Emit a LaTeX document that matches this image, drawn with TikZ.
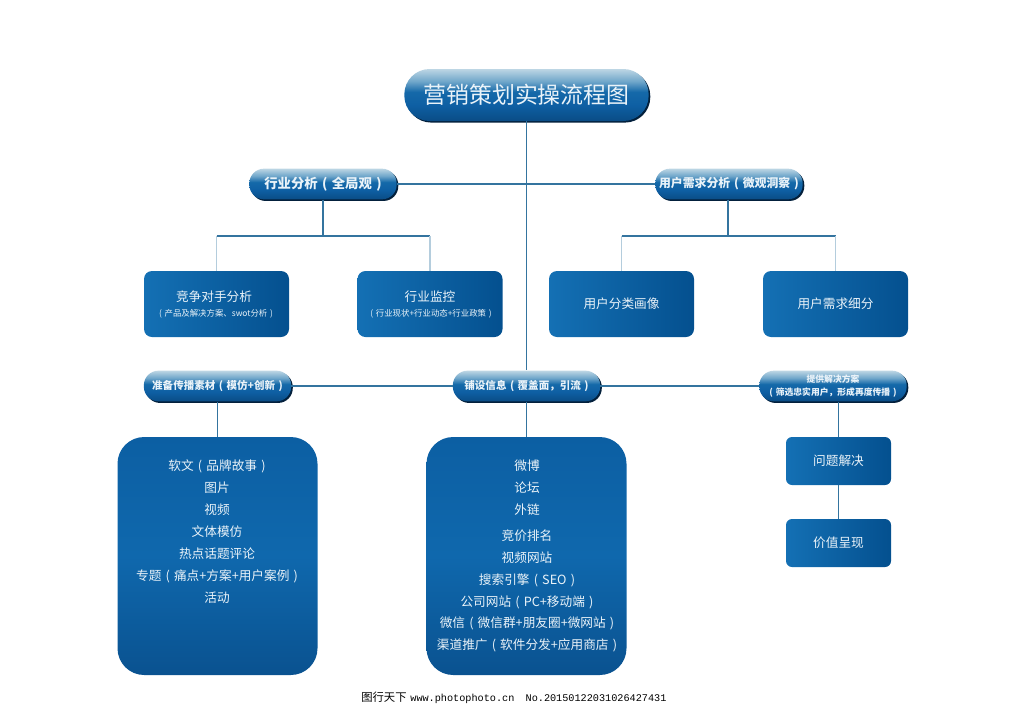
\documentclass[tikz,border=0pt]{standalone}
\usepackage{fontspec}
\setmainfont{Noto Sans CJK SC}
\newfontfamily\footlatin{Liberation Mono}
\usepackage{xcolor}
\usetikzlibrary{shadows}
\definecolor{linkblue}{HTML}{34749F}
\definecolor{stubblue}{HTML}{B4CDDD}
\definecolor{inkwhite}{HTML}{EAF3F9}
\definecolor{shadowink}{HTML}{03203C}
\definecolor{boxleft}{HTML}{1470B4}
\definecolor{boxright}{HTML}{04508F}
\definecolor{bigtop}{HTML}{0C5FA3}
\definecolor{bigmid}{HTML}{0F68AD}
\definecolor{bigbottom}{HTML}{0A5290}
\definecolor{pilla}{HTML}{0A4C85}
\definecolor{pillb}{HTML}{0E5FA3}
\definecolor{pillc}{HTML}{1569A9}
\definecolor{pilld}{HTML}{6FA6CA}
\definecolor{pille}{HTML}{BDD6E4}
\pgfdeclareverticalshading{pillshade}{100bp}{
  color(0bp)=(pilla); color(25bp)=(pilla); color(40bp)=(pillb);
  color(53bp)=(pillc); color(63bp)=(pilld); color(75bp)=(pille); color(100bp)=(pille)}
\newcommand{\lk}{\hspace{.33em}(\hspace{.33em}}
\newcommand{\rk}{\hspace{.33em})}
\newcommand{\lowtxt}[1]{\raisebox{-0.75pt}{#1}}
\begin{document}
\begin{tikzpicture}[x=0.75pt,y=0.75pt]
        \tikzstyle{every node}+=[inner sep=0pt,text=inkwhite,align=center]
        \tikzstyle{pillbox}=[shading=pillshade,rounded corners=11pt,minimum width=110.5pt,minimum height=23pt,
          general shadow={fill=shadowink,shadow xshift=1.2pt,shadow yshift=-1.2pt}]
        \tikzstyle{flatbox}=[left color=boxleft,right color=boxright,rounded corners=6pt]
        \tikzstyle{bigbox}=[top color=bigtop,bottom color=bigbottom,middle color=bigmid,rounded corners=20pt,minimum width=150pt,minimum height=178.5pt]
        \tikzstyle{link}=[linkblue,line width=1.1pt]
        \tikzstyle{stub}=[stubblue,line width=1.1pt]
        \tikzstyle{listline}=[font=\fontsize{9.5}{11}\selectfont]
        \useasboundingbox (0,0) rectangle (1024,-707);
        % top
        \node [pillbox,rounded corners=19pt,minimum width=183.25pt,minimum height=39pt,font=\fontsize{17.2}{20}\selectfont] (title) at (526.5,-95) {\lowtxt{营销策划实操流程图}};
        % analysis row
        \node [pillbox,font=\fontsize{10}{12}\selectfont\bfseries] (hangye) at (323,-184) {\lowtxt{行业分析\lk 全局观\rk}};
        \node [pillbox,font=\fontsize{8.9}{11}\selectfont\bfseries] (yonghu) at (729,-184) {\lowtxt{用户需求分析\lk 微观洞察\rk}};
        \node [flatbox,minimum width=108.75pt,minimum height=49.5pt] (jingzheng) at (216.5,-304) {};
        \node [flatbox,minimum width=108.75pt,minimum height=49.5pt] (jiankong) at (430,-304) {};
        \node [flatbox,minimum width=108.75pt,minimum height=49.5pt,font=\fontsize{9.5}{11}\selectfont] (huaxiang) at (621.5,-304) {\lowtxt{用户分类画像}};
        \node [flatbox,minimum width=108.75pt,minimum height=49.5pt,font=\fontsize{9.5}{11}\selectfont] (xifen) at (835.5,-304) {\lowtxt{用户需求细分}};
        \node [font=\fontsize{9.5}{11}\selectfont] (jzmain) at (214,-297) {竞争对手分析};
        \node [font=\fontsize{6.3}{8}\selectfont] (jzsub) at (216,-314) {(\hspace{.33em}产品及解决方案、swot分析\rk};
        \node [font=\fontsize{9.5}{11}\selectfont] (jkmain) at (430,-297) {行业监控};
        \node [font=\fontsize{6.3}{8}\selectfont] (jksub) at (431,-314) {(\hspace{.33em}行业现状+行业动态+行业政策\rk};
        % spreading row
        \node [pillbox,font=\fontsize{7.9}{10}\selectfont\bfseries] (zhunbei) at (217.5,-386) {\lowtxt{准备传播素材\lk 模仿+创新\rk}};
        \node [pillbox,font=\fontsize{7.9}{10}\selectfont\bfseries] (puse) at (526.5,-386) {\lowtxt{铺设信息\lk 覆盖面，引流\rk}};
        \node [pillbox,font=\fontsize{6.6}{9.5}\selectfont\bfseries] (tigong) at (833,-386) {提供解决方案\\(\hspace{.33em}筛选忠实用户，形成再度传播\rk};
        \node [bigbox] (sucai) at (217.5,-556) {};
        \node [bigbox] (xinxi) at (526.5,-556) {};
        \node [flatbox,rounded corners=4.5pt,minimum width=78.75pt,minimum height=36pt,font=\fontsize{9.5}{11}\selectfont] (wenti) at (838.5,-461) {\lowtxt{问题解决}};
        \node [flatbox,rounded corners=4.5pt,minimum width=78.75pt,minimum height=36pt,font=\fontsize{9.5}{11}\selectfont] (jiazhi) at (838.5,-543) {\lowtxt{价值呈现}};
        % list texts
        \foreach \i/\yy/\txt in {1/466/软文\lk 品牌故事\rk,2/488/图片,3/510/视频,4/532/文体模仿,5/554/热点话题评论,6/576/专题\lk 痛点+方案+用户案例\rk,7/598/活动}
          \node [listline] (sucai\i) at (217,-\yy) {\txt};
        \foreach \i/\yy/\txt in {1/466/微博,2/488/论坛,3/510/外链,4/536/竞价排名,5/558/视频网站,6/580/搜索引擎\lk SEO\rk,7/602/公司网站\lk PC+移动端\rk,8/623/微信\lk 微信群+朋友圈+微网站\rk,9/645/渠道推广\lk 软件分发+应用商店\rk}
          \node [listline] (xinxi\i) at (527,-\yy) {\txt};
        % connectors
        \coordinate (hfork) at (323,-236);
        \coordinate (yfork) at (728,-236);
        \draw [link] (title.south) -- (puse.north);
        \draw [link] (hangye.east) -- (yonghu.west);
        \draw [link] (hangye.south) -- (hfork);
        \draw [link] (yonghu.south -| yfork) -- (yfork);
        \draw [link] (hfork -| jingzheng.north) -- (hfork -| jiankong.north);
        \draw [link] (yfork -| huaxiang.north) -- (yfork -| xifen.north);
        \draw [stub] (hfork -| jingzheng.north) -- (jingzheng.north);
        \draw [stub] (hfork -| jiankong.north) -- (jiankong.north);
        \draw [stub] (yfork -| huaxiang.north) -- (huaxiang.north);
        \draw [stub] (yfork -| xifen.north) -- (xifen.north);
        \draw [link] (zhunbei.east) -- (puse.west);
        \draw [link] (puse.east) -- (tigong.west);
        \draw [link] (zhunbei.south) -- (sucai.north);
        \draw [link] (puse.south) -- (xinxi.north);
        \draw [link] (tigong.south -| wenti.north) -- (wenti.north);
        \draw [link] (wenti.south) -- (jiazhi.north);
        % footer
        \node [text=black,font=\fontsize{8.5}{10}\selectfont,anchor=west] (stamp) at (361,-698) {图行天下\,\,{\footlatin\fontsize{7.65}{10}\selectfont www.photophoto.cn\,\,\, No.20150122031026427431}};
\end{tikzpicture}
\end{document}
